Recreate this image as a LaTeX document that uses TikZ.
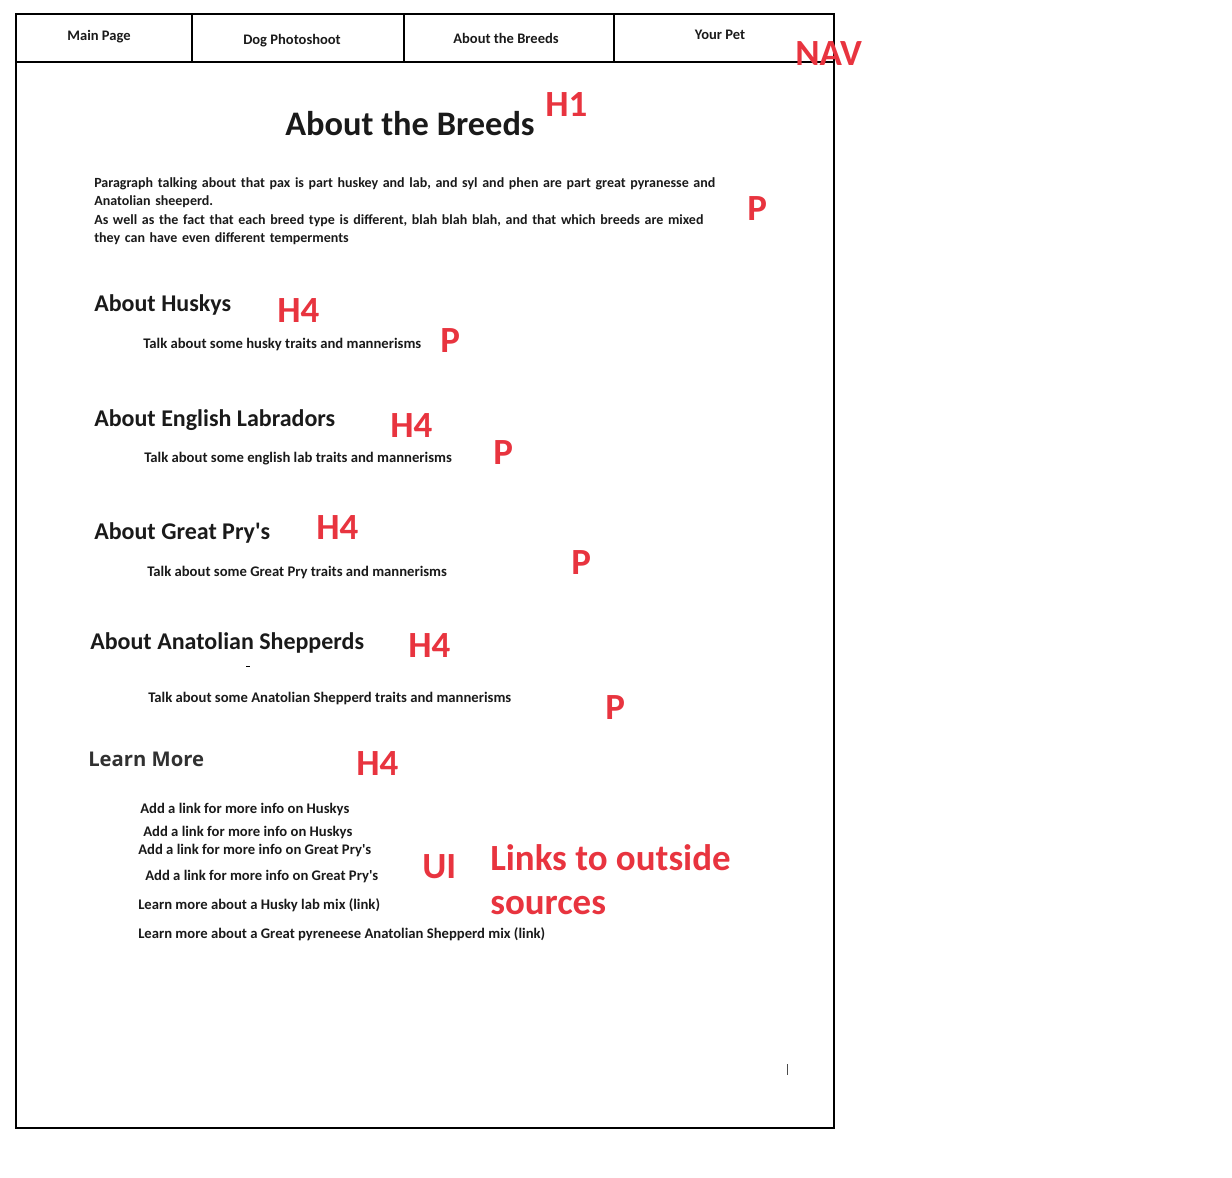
\documentclass[tikz,border=0pt]{standalone}
\usepackage{fontspec}
\setmainfont{Carlito}
\newfontfamily\lmfont{Open Sans}
\definecolor{lbl}{HTML}{E8343F}
\definecolor{ink}{HTML}{1A1A1A}
\newcommand{\aq}{\textquotesingle}
\begin{document}
\begin{tikzpicture}[x=0.75pt,y=-0.75pt,
  navtxt/.style={font=\fontsize{10.9}{12}\selectfont\bfseries, text=ink, inner sep=0pt, anchor=base},
  body/.style={font=\fontsize{11}{12}\selectfont\bfseries, text=ink, inner sep=0pt, anchor=base west},
  link/.style={font=\fontsize{11}{12}\selectfont\bfseries, text=ink, inner sep=0pt, anchor=base west},
  head/.style={font=\fontsize{18}{21}\selectfont\bfseries, text=ink, inner sep=0pt, anchor=base west},
  tag/.style={font=\fontsize{27.7}{32}\selectfont\bfseries, text=lbl, inner sep=0pt, anchor=base west},
  frame/.style={draw=black, line width=1pt}]
\useasboundingbox (0,0) rectangle (1232,1178);
% page frame
\draw[frame] (16,14) rectangle (834,1128);
\draw[frame] (16,62) -- (834,62);
\draw[frame] (192,14) -- (192,63);
\draw[frame] (404,14) -- (404,61);
\draw[frame] (614,14) -- (614,62);
% nav labels
\node[navtxt] (n1) at (99,40) {Main Page};
\node[navtxt] (n2) at (292,44) {Dog Photoshoot};
\node[navtxt] (n3) at (506,43) {About the Breeds};
\node[navtxt] (n4) at (720,39) {Your Pet};
\node[tag] (tnav) at (795,65) {NAV};
% title
\node[font=\fontsize{25.8}{30}\selectfont\bfseries, text=ink, inner sep=0pt, anchor=base west] (h1) at (285,135) {About the Breeds};
\node[tag] (th1) at (545,116) {H1};
% paragraph
\node[body, align=left, text width=720, font=\fontsize{10.5}{13.875}\selectfont\bfseries] (p0) at (94,187) {Paragraph talking about that pax is part huskey and lab, and syl and phen are part great pyranesse and\\Anatolian sheeperd.\\As well as the fact that each breed type is different, blah blah blah, and that which breeds are mixed\\they can have even different temperments};
\node[tag] (tp0) at (747,220) {P};
% sections
\node[head] (s1) at (94,311) {About Huskys};
\node[tag] (ts1) at (277,322) {H4};
\node[body] (b1) at (143,348) {Talk about some husky traits and mannerisms};
\node[tag] (tb1) at (440,352) {P};

\node[head] (s2) at (94,426) {About English Labradors};
\node[tag] (ts2) at (390,437) {H4};
\node[body] (b2) at (144,462) {Talk about some english lab traits and mannerisms};
\node[tag] (tb2) at (493,464) {P};

\node[head] (s3) at (94,539) {About Great Pry\aq s};
\node[tag] (ts3) at (316,539) {H4};
\node[body] (b3) at (147,576) {Talk about some Great Pry traits and mannerisms};
\node[tag] (tb3) at (571,574) {P};

\node[head] (s4) at (90,649) {About Anatolian Shepperds};
\node[tag] (ts4) at (408,657) {H4};
\node[body] (b4) at (148,702) {Talk about some Anatolian Shepperd traits and mannerisms};
\node[tag] (tb4) at (605,719) {P};

\node[font=\lmfont\fontsize{15.2}{18}\selectfont\bfseries, text=ink!90, inner sep=0pt, anchor=base west] (s5) at (88,766) {Learn More};
\node[tag] (ts5) at (356,775) {H4};
% links
\node[link] (l1) at (140,813) {Add a link for more info on Huskys};
\node[link] (l2) at (143,836) {Add a link for more info on Huskys};
\node[link] (l3) at (138,854) {Add a link for more info on Great Pry\aq s};
\node[link] (l4) at (145,880) {Add a link for more info on Great Pry\aq s};
\node[link] (l5) at (138,909) {Learn more about a Husky lab mix (link)};
\node[link] (l6) at (138,938) {Learn more about a Great pyreneese Anatolian Shepperd mix (link)};
\node[tag] (tui) at (422,878) {UI};
\node[tag] (tlk1) at (490,870) {Links to outside};
\node[tag] (tlk2) at (490,914) {sources};
% stray marks
\draw[line width=0.6pt] (246,666) -- (250,666);
\draw[line width=0.6pt, draw=black!70] (787,1064) -- (787,1075);
\end{tikzpicture}
\end{document}
